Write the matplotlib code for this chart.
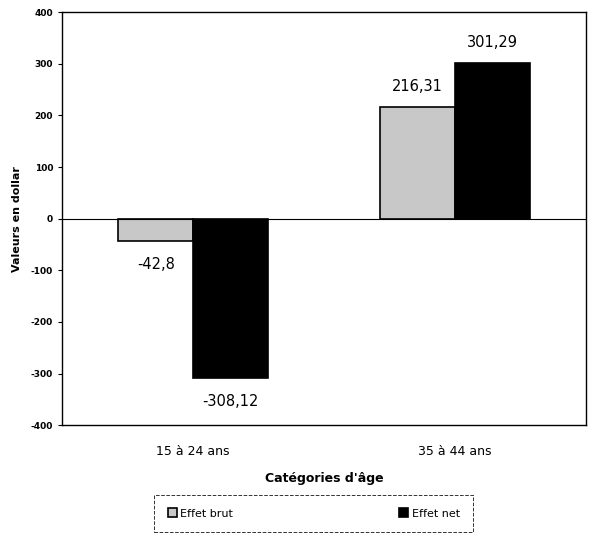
import matplotlib
matplotlib.use("Agg")
import matplotlib.pyplot as plt
import numpy as np

categories = ["15 à 24 ans", "35 à 44 ans"]
effet_brut = [-42.8, 216.31]
effet_net = [-308.12, 301.29]
labels_brut = ["-42,8", "216,31"]
labels_net = ["-308,12", "301,29"]

fig = plt.figure(figsize=(5.92, 5.48), dpi=100)
ax = fig.add_axes([0.105, 0.224, 0.885, 0.754])

xs = np.arange(len(categories))
w = 0.285
b1 = ax.bar(xs - w / 2, effet_brut, w, color="#c8c8c8", edgecolor="black", lw=1.2, label="Effet brut")
b2 = ax.bar(xs + w / 2, effet_net, w, color="black", edgecolor="black", lw=1.2, label="Effet net")

for bars, vals, texts in ((b1, effet_brut, labels_brut), (b2, effet_net, labels_net)):
    for bar, v, t in zip(bars, vals, texts):
        off = 15 if v > 0 else -17
        ax.annotate(t, (bar.get_x() + bar.get_width() / 2, v), textcoords="offset points",
                    xytext=(0, off), ha="center", va="center", fontsize=10.5)

ax.axhline(0, color="black", lw=0.8)
ax.set_xlim(-0.5, 1.5)
ax.set_ylim(-400, 400)
ax.set_yticks(range(-400, 401, 100))
ax.set_yticklabels([str(v) for v in range(-400, 401, 100)], fontsize=6.5, fontweight="bold")
ax.set_xticks(xs)
ax.set_xticklabels(categories, fontsize=9)
ax.tick_params(axis="x", length=0, pad=14)
ax.tick_params(axis="y", length=3)
ax.set_ylabel("Valeurs en dollar", fontsize=8, fontweight="bold", labelpad=6)
ax.set_xlabel("Catégories d'âge", fontsize=9, fontweight="bold", labelpad=10)
for s in ax.spines.values():
    s.set_linewidth(1.0)

leg = fig.legend(loc="center", bbox_to_anchor=(0.53, 0.063), ncol=2, fontsize=8,
                 frameon=True, fancybox=False, handlelength=0.8, handleheight=0.8,
                 columnspacing=15, borderpad=1.2, borderaxespad=0, handletextpad=0.3)
leg.get_frame().set_edgecolor("black")
leg.get_frame().set_linestyle("--")
leg.get_frame().set_linewidth(0.7)

fig.savefig("out.png", dpi=100)
